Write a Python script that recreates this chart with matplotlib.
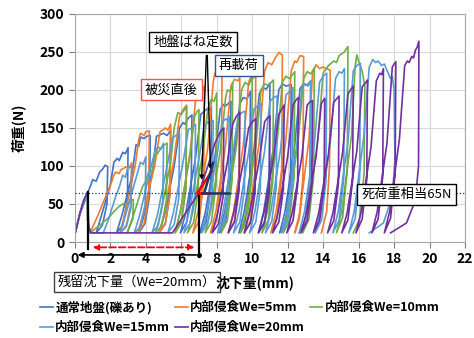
import numpy as np
import matplotlib.pyplot as plt

plt.rcParams['font.family'] = ['Noto Sans CJK JP', 'DejaVu Sans']

# load-settlement curves, (settlement mm, load N)
normal = [(0, 10), (0.15, 25), (0.3, 40), (0.5, 55), (0.74, 66), (0.9, 75), (1.0, 82), (1.2, 80), (1.4, 92),
          (1.6, 97), (1.7, 101), (1.85, 99),
          (1.81, 50), (1.55, 22), (1.2, 12),
          (1.5, 35), (2.0, 75), (2.2, 105), (2.4, 110), (2.5, 107), (2.7, 118), (2.85, 116), (3.0, 124),
          (2.96, 55), (2.7, 22), (2.35, 12),
          (2.65, 35), (3.2, 85), (3.45, 128), (3.6, 126), (3.7, 138), (3.9, 136), (4.05, 139), (4.25, 140),
          (4.21, 60), (3.95, 24), (3.6, 12),
          (3.9, 35), (4.4, 95), (4.6, 139), (4.8, 141), (5.0, 143), (5.2, 140), (5.4, 147),
          (5.36, 62), (5.1, 24), (4.75, 12),
          (5.05, 35), (5.6, 100), (5.9, 150), (6.1, 157), (6.2, 155), (6.4, 163), (6.6, 167),
          (6.56, 68), (6.3, 26), (5.95, 12),
          (6.25, 38), (6.8, 110), (7.1, 168), (7.3, 172), (7.5, 176), (7.6, 174), (7.7, 178),
          (7.66, 70), (7.4, 26), (7.05, 12),
          (7.35, 38), (7.9, 112), (8.2, 175), (8.4, 181), (8.5, 179), (8.8, 185),
          (8.76, 72), (8.5, 27), (8.15, 12),
          (8.45, 40), (9.0, 118), (9.3, 182), (9.5, 190), (9.7, 188), (9.9, 198),
          (9.86, 76), (9.6, 28), (9.25, 12),
          (9.55, 40), (10.1, 122), (10.4, 195), (10.6, 203), (10.8, 201), (11.0, 209),
          (10.96, 80), (10.7, 28), (10.35, 12),
          (10.65, 40), (11.2, 125), (11.5, 200), (11.7, 208), (11.9, 205), (12.2, 207),
          (12.16, 80), (11.9, 28), (11.55, 12),
          (11.85, 40), (12.4, 128), (12.7, 202), (12.9, 208), (13.1, 206), (13.3, 212),
          (13.26, 82), (13.0, 28), (12.65, 12)]

we5 = [(0, 10), (0.3, 38), (0.7, 64), (0.72, 30), (0.85, 12),
       (1.3, 35), (1.7, 58), (2.0, 74), (2.2, 88), (2.3, 92), (2.5, 90), (2.6, 95), (2.9, 99), (3.05, 97),
       (3.2, 104),
       (3.16, 50), (2.9, 22), (2.55, 12),
       (2.85, 40), (3.4, 100), (3.6, 135), (3.7, 143), (3.9, 140), (4.0, 145), (4.2, 146),
       (4.16, 60), (3.9, 24), (3.55, 12),
       (3.85, 38), (4.5, 100), (4.8, 145), (5.0, 148), (5.1, 150), (5.25, 147), (5.4, 155),
       (5.36, 62), (5.1, 24), (4.75, 12),
       (5.05, 38), (5.6, 110), (5.9, 165), (6.1, 174), (6.3, 180),
       (6.26, 70), (6.0, 26), (5.65, 12),
       (5.95, 40), (6.5, 118), (6.8, 185), (7.0, 195), (7.1, 192), (7.3, 205),
       (7.26, 76), (7.0, 28), (6.65, 12),
       (6.95, 40), (7.5, 125), (7.8, 210), (7.9, 222), (8.1, 218), (8.3, 226),
       (8.26, 82), (8.0, 28), (7.65, 12),
       (7.95, 40), (8.5, 128), (8.8, 205), (9.0, 214), (9.2, 212), (9.3, 216),
       (9.26, 80), (9.0, 28), (8.65, 12),
       (8.95, 40), (9.5, 128), (9.8, 210), (9.95, 219), (10.05, 215), (10.2, 220),
       (10.16, 80), (9.9, 28), (9.55, 12),
       (9.85, 40), (10.4, 132), (10.7, 225), (10.9, 236), (11.1, 233), (11.3, 242), (11.5, 249), (11.7, 246),
       (11.66, 85), (11.4, 30), (11.05, 12),
       (11.35, 40), (11.9, 135), (12.2, 225), (12.4, 238), (12.5, 236), (12.7, 245), (12.9, 244),
       (12.86, 85), (12.65, 30), (12.4, 12),
       (12.7, 40), (13.2, 135), (13.4, 222), (13.6, 233), (13.8, 228), (14.0, 230), (14.2, 228), (14.4, 226),
       (14.36, 100), (14.2, 40), (13.9, 12)]

we10 = [(0, 10), (0.3, 38), (0.7, 63), (0.72, 28), (0.85, 12),
        (1.5, 24), (1.9, 32), (2.2, 40), (2.5, 47), (2.8, 51), (3.0, 50), (3.1, 54), (3.3, 56),
        (3.26, 30), (2.95, 12),
        (3.3, 35), (3.8, 72), (4.0, 80), (4.2, 95), (4.35, 92), (4.5, 112), (4.7, 118), (4.9, 125), (5.2, 130),
        (5.16, 55), (4.9, 22), (4.55, 12),
        (4.85, 38), (5.4, 105), (5.6, 150), (5.8, 170), (6.0, 168), (6.3, 178),
        (6.26, 70), (6.0, 26), (5.65, 12),
        (5.95, 40), (6.5, 115), (6.75, 165), (6.9, 172), (7.0, 174),
        (6.96, 70), (6.7, 26), (6.35, 12),
        (6.65, 40), (7.2, 115), (7.5, 175), (7.7, 188), (7.85, 185), (8.0, 196),
        (7.96, 75), (7.7, 27), (7.35, 12),
        (7.65, 40), (8.2, 120), (8.5, 190), (8.6, 200), (8.75, 198), (8.9, 209),
        (8.86, 80), (8.6, 28), (8.25, 12),
        (8.55, 40), (9.1, 125), (9.4, 200), (9.6, 210), (9.8, 206), (10.0, 217),
        (9.96, 80), (9.7, 28), (9.35, 12),
        (9.65, 40), (10.2, 125), (10.5, 200), (10.7, 208), (10.9, 206), (11.2, 213),
        (11.16, 80), (10.9, 28), (10.55, 12),
        (10.85, 40), (11.4, 130), (11.7, 210), (11.9, 218), (12.1, 215), (12.4, 224),
        (12.36, 85), (12.1, 28), (11.75, 12),
        (12.05, 40), (12.6, 135), (12.9, 215), (13.1, 224), (13.3, 221), (13.5, 229),
        (13.46, 85), (13.2, 30), (12.85, 12),
        (13.15, 40), (13.7, 135), (14.0, 222), (14.3, 232), (14.6, 238), (14.75, 236), (14.9, 245),
        (15.2, 250), (15.4, 257),
        (15.36, 95), (15.1, 32), (14.75, 12),
        (15.05, 40), (15.6, 140), (15.8, 230), (15.9, 246), (16.0, 238), (16.2, 225), (16.35, 204),
        (16.31, 90), (16.05, 30), (15.7, 12)]

we15 = [(0, 10), (0.3, 38), (0.7, 63), (0.72, 28), (0.85, 12), (1.6, 12),
        (1.9, 30), (2.3, 60), (2.5, 72), (2.7, 88), (2.85, 85), (3.0, 100), (3.2, 98),
        (3.16, 45), (2.9, 20), (2.55, 12),
        (2.85, 35), (3.4, 80), (3.7, 105), (3.85, 102), (4.0, 112),
        (3.96, 48), (3.7, 20), (3.35, 12),
        (3.65, 35), (4.2, 90), (4.5, 118), (4.7, 125), (4.85, 122), (5.0, 130),
        (4.96, 55), (4.7, 22), (4.35, 12),
        (4.65, 35), (5.2, 100), (5.5, 137), (5.7, 140), (5.9, 143),
        (5.86, 58), (5.6, 23), (5.25, 12),
        (5.55, 38), (6.1, 105), (6.4, 148), (6.6, 150), (6.8, 155),
        (6.76, 62), (6.5, 25), (6.15, 12),
        (6.45, 40), (7.0, 110), (7.3, 152), (7.5, 158), (7.65, 155), (7.8, 160),
        (7.76, 64), (7.5, 25), (7.15, 12),
        (7.45, 40), (8.0, 112), (8.3, 157), (8.5, 162), (8.6, 160), (8.7, 165),
        (8.66, 65), (8.4, 25), (8.05, 12),
        (8.35, 40), (8.9, 115), (9.2, 165), (9.4, 170), (9.6, 172),
        (9.56, 68), (9.3, 26), (8.95, 12),
        (9.25, 40), (9.8, 118), (10.1, 175), (10.3, 179), (10.5, 182),
        (10.46, 70), (10.2, 26), (9.85, 12),
        (10.15, 40), (10.7, 120), (11.0, 185), (11.2, 190), (11.4, 192),
        (11.36, 72), (11.1, 27), (10.75, 12),
        (11.05, 40), (11.6, 122), (11.9, 193), (12.1, 198), (12.3, 203),
        (12.26, 75), (12.0, 28), (11.65, 12),
        (11.95, 40), (12.5, 125), (12.8, 203), (13.0, 208), (13.15, 205), (13.3, 212),
        (13.26, 78), (13.0, 28), (12.65, 12),
        (12.95, 40), (13.5, 128), (13.8, 210), (14.0, 218), (14.2, 222),
        (14.16, 80), (13.9, 28), (13.55, 12),
        (13.85, 40), (14.4, 130), (14.7, 215), (14.9, 224), (15.05, 222), (15.2, 228),
        (15.16, 82), (14.9, 29), (14.55, 12),
        (14.85, 40), (15.4, 132), (15.7, 225), (15.9, 232), (16.1, 235),
        (16.06, 85), (15.8, 30), (15.45, 12),
        (15.75, 40), (16.3, 140), (16.6, 230), (16.8, 240), (16.95, 236), (17.1, 238), (17.3, 232),
        (17.45, 234), (17.6, 226), (17.8, 215), (17.9, 218), (18.0, 200),
        (18.05, 108), (17.9, 60), (17.4, 25), (16.6, 12)]

we20 = [(0, 10), (0.25, 35), (0.5, 55), (0.72, 66), (0.78, 20), (0.9, 12), (5.5, 12), (7.0, 65),
        (7.5, 100), (7.9, 130), (8.2, 145), (8.4, 150),
        (8.36, 60), (8.1, 24), (7.75, 12),
        (8.05, 38), (8.6, 105), (8.9, 155), (9.1, 165), (9.3, 171),
        (9.26, 68), (9.0, 26), (8.65, 12),
        (8.95, 38), (9.5, 105), (9.8, 150), (10.0, 158), (10.2, 162),
        (10.16, 65), (9.9, 25), (9.55, 12),
        (9.85, 38), (10.4, 108), (10.7, 158), (10.85, 163), (11.0, 166),
        (10.96, 66), (10.7, 25), (10.35, 12),
        (10.65, 38), (11.2, 110), (11.5, 168), (11.65, 174), (11.8, 180),
        (11.76, 70), (11.5, 26), (11.15, 12),
        (11.45, 38), (12.0, 112), (12.3, 180), (12.45, 186), (12.6, 190),
        (12.56, 74), (12.3, 28), (11.95, 12),
        (12.25, 38), (12.8, 112), (13.1, 180), (13.25, 184), (13.4, 186),
        (13.36, 74), (13.1, 28), (12.75, 12),
        (13.05, 38), (13.6, 112), (13.9, 182), (14.0, 186), (14.1, 189),
        (14.06, 75), (13.8, 28), (13.45, 12),
        (13.75, 38), (14.3, 115), (14.6, 184), (14.75, 188), (14.9, 192),
        (14.86, 76), (14.6, 28), (14.25, 12),
        (14.55, 38), (15.1, 118), (15.4, 195), (15.55, 200), (15.7, 205),
        (15.66, 80), (15.4, 29), (15.05, 12),
        (15.35, 38), (15.9, 120), (16.2, 204), (16.35, 208), (16.5, 213),
        (16.46, 82), (16.2, 30), (15.85, 12),
        (16.15, 40), (16.7, 125), (17.0, 212), (17.2, 222), (17.3, 220), (17.4, 228),
        (17.36, 86), (17.1, 30), (16.75, 12),
        (17.05, 40), (17.6, 130), (17.9, 230), (18.0, 234), (18.1, 237),
        (18.06, 90), (17.8, 31), (17.45, 12),
        (17.75, 40), (18.3, 135), (18.6, 232), (18.75, 238), (18.85, 236), (19.0, 244), (19.1, 242),
        (19.2, 252), (19.3, 256), (19.4, 264),
        (19.38, 100), (19.2, 55), (18.7, 25), (17.8, 12)]

labels = ['通常地盤(礫あり)', '内部侵食We=5mm', '内部侵食We=10mm', '内部侵食We=15mm', '内部侵食We=20mm']
colors = ['#4472C4', '#ED7D31', '#70AD47', '#5B9BD5', '#7030A0']
series = [normal, we5, we10, we15, we20]

dead_load = 65

fig = plt.figure(figsize=(4.74, 3.38), dpi=100)
ax = fig.add_axes([0.158, 0.284, 0.823, 0.675])

lines = []
for s, c, lab in zip(series, colors, labels):
    arr = np.array(s)
    ln, = ax.plot(arr[:, 0], arr[:, 1], color=c, lw=1.2, label=lab, zorder=2)
    lines.append(ln)

ax.set_xlim(0, 22)
ax.set_ylim(0, 300)
ax.set_xticks(np.arange(0, 23, 2))
ax.set_yticks(np.arange(0, 301, 50))
ax.grid(color='#D9D9D9', lw=0.8, zorder=0)
ax.set_axisbelow(True)
for sp in ax.spines.values():
    sp.set_color('#A6A6A6')
ax.tick_params(colors='#808080', labelcolor='black', length=4)
for t in ax.get_xticklabels() + ax.get_yticklabels():
    t.set_fontweight('bold')
    t.set_fontsize(10)

# dead load line
ax.axhline(dead_load, color='#203864', lw=0.9, ls=':', zorder=3)

# residual settlement markers
ax.plot([0.74, 0.74], [66, -9], color='black', lw=1.6, clip_on=False, zorder=4)
ax.plot([7.0, 7.0], [65, -20], color='black', lw=1.6, clip_on=False, zorder=4)
ax.annotate('', xy=(0, -17), xytext=(7.0, -17), annotation_clip=False,
            arrowprops=dict(arrowstyle='-|>', color='black', lw=1.2, mutation_scale=8))
ax.plot([7.0], [-17], 'o', color='black', ms=2.5, clip_on=False)
ax.annotate('', xy=(0.85, -7), xytext=(6.9, -7), annotation_clip=False,
            arrowprops=dict(arrowstyle='<|-|>', color='red', lw=1.3, ls='--', mutation_scale=8))

# spring constant triangles
ax.plot([6.92, 7.72], [65, 93], color='red', lw=1.8, zorder=4)
ax.plot([6.92, 7.6], [65, 65], color='red', lw=1.8, zorder=4)
ax.plot([7.3, 7.8], [65, 104], color='#203864', lw=1.8, zorder=4)
ax.plot([7.15, 8.7], [65, 65], color='#203864', lw=1.8, zorder=4)

ax.annotate('', xy=(7.14, 78), xytext=(7.42, 249),
            arrowprops=dict(arrowstyle='-|>', color='black', lw=1.0, mutation_scale=6))
ax.annotate('', xy=(7.65, 92), xytext=(7.46, 249),
            arrowprops=dict(arrowstyle='-|>', color='black', lw=1.0, mutation_scale=6))

box = dict(boxstyle='square,pad=0.3', fc='white', lw=1.0)
ax.text(6.66, 263, '地盤ばね定数', ha='center', va='center', fontsize=9.5,
        bbox=dict(box, ec='black'), zorder=6)
ax.text(9.24, 231.6, '再載荷', ha='center', va='center', fontsize=9.5,
        bbox=dict(box, ec='#2F5597'), zorder=6)
ax.text(5.44, 200, '被災直後', ha='center', va='center', fontsize=9.5,
        bbox=dict(box, ec='#FF5050'), zorder=6)
ax.text(18.7, 62, '死荷重相当65N', ha='center', va='center', fontsize=9.5,
        bbox=dict(box, ec='black'), zorder=6)

fig.text(137 / 474, 1 - 282 / 338, '残留沈下量（We=20mm）', ha='center', va='center', fontsize=9.5,
         bbox=dict(boxstyle='square,pad=0.3', fc='white', ec='#404040', lw=1.0))
fig.text(255 / 474, 1 - 283 / 338, '沈下量(mm)', ha='center', va='center', fontsize=10,
         fontweight='bold')
fig.text(18 / 474, 1 - 128 / 338, '荷重(N)', ha='center', va='center', fontsize=10,
         fontweight='bold', rotation=90)

order = [0, 3, 1, 4, 2]
fig.legend([lines[i] for i in order], [labels[i] for i in order], ncol=3,
           loc='upper left', bbox_to_anchor=(0.085, 0.11), frameon=False,
           prop=dict(size=9, weight='bold'), handlelength=1.0, handletextpad=0.2,
           columnspacing=0.4, labelspacing=0.55, borderpad=0, borderaxespad=0)

fig.savefig('out.png', dpi=100)
